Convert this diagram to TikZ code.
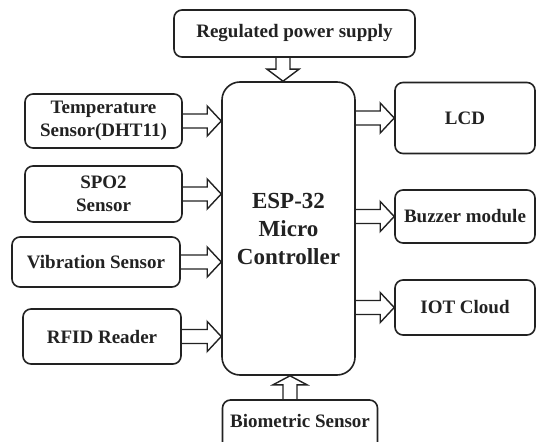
\documentclass[tikz,border=0pt]{standalone}
\usepackage{fontspec}
\setmainfont{Liberation Serif}[BoldFont={Liberation Serif Bold}]
\usetikzlibrary{calc}
\definecolor{ink}{HTML}{222222}
\tikzset{
  box/.style={draw=ink, line width=1.6pt, rounded corners=8pt, align=center,
    font=\fontsize{19}{23}\selectfont\bfseries, text=ink, inner sep=0pt},
  mainbox/.style={draw=ink, line width=1.6pt, rounded corners=18pt, align=center,
    font=\fontsize{23}{28}\selectfont\bfseries, text=ink, inner sep=0pt},
  harrow/.style={draw=ink, line width=1.4pt, to path={let \p1=(\tikztostart), \p2=(\tikztotarget) in
    (\x1,\y1+7pt) -- (\x2-14pt,\y1+7pt) -- (\x2-14pt,\y1+15pt) -- (\x2,\y1)
    -- (\x2-14pt,\y1-15pt) -- (\x2-14pt,\y1-7pt) -- (\x1,\y1-7pt)}},
  vdown/.style={draw=ink, line width=1.4pt, to path={let \p1=(\tikztostart), \p2=(\tikztotarget) in
    (\x1-7pt,\y1) -- (\x1-7pt,\y2+12pt) -- (\x1-16pt,\y2+12pt) -- (\x1,\y2)
    -- (\x1+16pt,\y2+12pt) -- (\x1+7pt,\y2+12pt) -- (\x1+7pt,\y1)}},
  vup/.style={draw=ink, line width=1.4pt, to path={let \p1=(\tikztostart), \p2=(\tikztotarget) in
    (\x1-7pt,\y1) -- (\x1-7pt,\y2-9pt) -- (\x1-17pt,\y2-9pt) -- (\x1,\y2)
    -- (\x1+17pt,\y2-9pt) -- (\x1+7pt,\y2-9pt) -- (\x1+7pt,\y1)}},
}
\begin{document}
\begin{tikzpicture}[x=1pt,y=-1pt]
\useasboundingbox[fill=white] (0,0) rectangle (537,441);
% boxes
\node[box, minimum width=241pt, minimum height=47pt] (psu) at (294.5,33.5) {Regulated power supply};
\node[mainbox, minimum width=133pt, minimum height=293pt] (main) at (288.5,228.5) {ESP-32\\Micro\\Controller};
\node[box, minimum width=157pt, minimum height=54pt] (temp) at (103.5,121) {Temperature\\Sensor(DHT11)};
\node[box, minimum width=157pt, minimum height=56pt] (spo) at (103.5,194) {SPO2\\Sensor};
\node[box, minimum width=168pt, minimum height=50pt] (vib) at (96,262) {Vibration Sensor};
\node[box, minimum width=158pt, minimum height=55pt] (rfid) at (102,336.5) {RFID Reader};
\node[box, minimum width=155pt, minimum height=50pt] (bio) at (300,425) {};
\node[font=\fontsize{19}{23}\selectfont\bfseries, text=ink, inner sep=0pt] (biot) at (300,421) {Biometric Sensor};
\node[box, minimum width=140pt, minimum height=71pt] (lcd) at (465,118) {LCD};
\node[box, minimum width=140pt, minimum height=53pt] (buz) at (465,216.5) {Buzzer module};
\node[box, minimum width=140pt, minimum height=55pt] (iot) at (465,307.5) {IOT Cloud};
% arrows
\draw[harrow] (temp.east) to (temp.east -| main.west);
\draw[harrow] (spo.east) to (spo.east -| main.west);
\draw[harrow] (vib.east) to (vib.east -| main.west);
\draw[harrow] (rfid.east) to (rfid.east -| main.west);
\draw[harrow] (main.east |- lcd.west) to (lcd.west);
\draw[harrow] (main.east |- buz.west) to (buz.west);
\draw[harrow] (main.east |- iot.west) to (iot.west);
\draw[vdown] ([xshift=-5.5pt]psu.south -| main.north) to ([xshift=-5.5pt]main.north);
\draw[vup] ([xshift=1.5pt]bio.north -| main.south) to ([xshift=1.5pt]main.south);
\end{tikzpicture}
\end{document}
